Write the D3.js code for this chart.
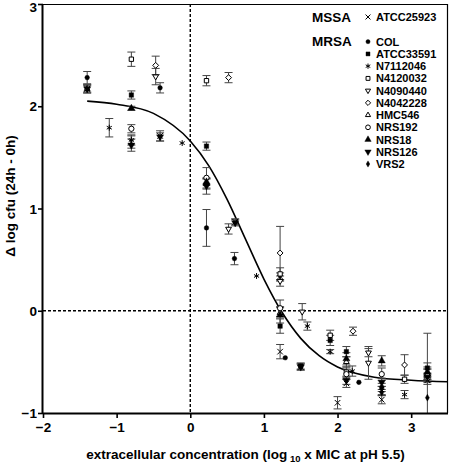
<!DOCTYPE html>
<html><head><meta charset="utf-8">
<script src="https://cdn.jsdelivr.net/npm/d3@7"></script>
<style>body{margin:0;background:#fff}svg{display:block}text{font-family:"Liberation Sans",Arial,sans-serif;font-weight:bold}</style>
</head><body><svg id="c" width="450" height="466"></svg>
<script>
// ---- data: [x, y, sd] ----
const ATCC25923 = [[-1.40,2.17,0.04],[-0.80,1.65,0.06],[-0.41,1.71,0.05],[0.61,0.87,0.03],[1.22,-0.40,0.07],[1.50,-0.55,0.03],[2.00,-0.90,0.06],[2.12,-0.71,0.04],[2.60,-0.87,0.04],[3.22,-0.68,0.04]];
const COL = [[-1.40,2.28,0.06],[-0.41,2.18,0.05],[0.22,0.81,0.18],[0.60,0.51,0.06],[1.29,-0.46,0],[2.29,-0.70,0],[2.60,-0.75,0.04]];
const ATCC33591 = [[-0.80,2.11,0.04],[0.22,1.61,0.04],[1.22,-0.15,0.07],[1.50,-0.54,0.03],[1.90,-0.29,0.05],[2.12,-0.40,0.05],[3.22,-0.56,0.05]];
const N7112046 = [[-1.10,1.79,0.09],[-0.80,1.67,0.05],[-0.11,1.64,0],[0.90,0.34,0],[1.22,0.33,0.04],[1.59,-0.15,0.04],[1.90,-0.40,0.02],[2.20,-0.59,0.05],[2.60,-0.78,0.04],[2.91,-0.82,0.04]];
const N4120032 = [[-0.80,2.46,0.07],[0.22,2.25,0.05],[1.22,0.36,0.06],[1.90,-0.24,0.05],[2.12,-0.60,0.05],[2.91,-0.67,0.04],[3.22,-0.62,0.05]];
const N4090440 = [[-0.47,2.29,0.08],[0.52,0.80,0.05],[1.22,0.29,0.05],[1.52,-0.01,0.08],[2.42,-0.41,0.04],[2.42,-0.51,0.16]];
const N4042228 = [[-0.47,2.40,0.09],[0.52,2.28,0.05],[1.22,0.565,0.26],[2.21,-0.20,0.04],[2.91,-0.53,0.10]];
const HMC546 = [[-1.40,2.17,0.04],[0.22,1.24,0.05],[1.22,-0.02,0.05],[2.12,-0.50,0.05],[3.22,-0.62,0.05]];
const NRS192 = [[-0.80,1.78,0.04],[0.22,1.30,0.10],[1.22,0.025,0.08],[2.12,-0.62,0.05],[2.60,-0.62,0.06],[3.22,-0.66,0.04]];
const NRS18 = [[-0.80,1.98,0.02],[0.22,1.26,0.03],[1.22,-0.04,0.08],[2.12,-0.47,0.06],[2.60,-0.49,0.05],[3.22,-0.60,0.05]];
const NRS126 = [[-1.40,2.17,0.03],[-0.80,1.62,0.06],[-0.41,1.70,0.04],[0.22,1.22,0.08],[0.61,0.86,0.03],[1.50,-0.55,0.03],[2.12,-0.68,0.04],[2.60,-0.70,0.04],[3.22,-0.65,0.43]];
const VRS2 = [[2.60,-0.80,0.03],[3.22,-0.85,0]];
// fitted curve
const curveX = [-1.4,-1.0,-0.5,0,0.25,0.5,0.75,1.0,1.25,1.5,1.75,2.0,2.5,3.0,3.5];
const curveY = [2.05,2.02,1.93,1.66,1.42,1.09,0.70,0.31,-0.02,-0.27,-0.44,-0.55,-0.65,-0.68,-0.695];
const xTicks = [-2,-1,0,1,2,3];
const yTicks = [-1,0,1,2,3];
const strainNames = ["ATCC25923","COL","ATCC33591","N7112046","N4120032","N4090440","N4042228","HMC546","NRS192","NRS18","NRS126","VRS2"];
const strainData = [ATCC25923,COL,ATCC33591,N7112046,N4120032,N4090440,N4042228,HMC546,NRS192,NRS18,NRS126,VRS2];
// symbol styles: [d3 symbol, size, filled, rotate]
const styles = [
  [d3.symbolTimes,22,false,0],[d3.symbolCircle,17,true,0],[d3.symbolSquare,20,true,0],
  [d3.symbolAsterisk,24,false,0],[d3.symbolSquare2,24,false,0],[d3.symbolTriangle2,24,false,180],
  [d3.symbolDiamond2,22,false,0],[d3.symbolTriangle2,24,false,0],[d3.symbolCircle,22,false,0],
  [d3.symbolTriangle,22,true,0],[d3.symbolTriangle,22,true,180],[d3.symbolDiamond,14,true,0]];

const svg = d3.select("#c");
const L=43,R=448,T=4,B=413;
const x = d3.scaleLinear().domain([-2,3.5]).range([L,R]);
const y = d3.scaleLinear().domain([-1,3]).range([B,T]);

svg.append("defs").append("clipPath").attr("id","clip").append("rect").attr("x",L).attr("y",T-3).attr("width",R-L).attr("height",B-T+3);

// frame top/right
svg.append("line").attr("x1",L).attr("x2",R).attr("y1",T+0.5).attr("y2",T+0.5).attr("stroke","#000").attr("stroke-width",1.2);
svg.append("line").attr("x1",R-0.5).attr("x2",R-0.5).attr("y1",T).attr("y2",B).attr("stroke","#000").attr("stroke-width",1.2);

// dashed zero lines
svg.append("line").attr("x1",L).attr("x2",R).attr("y1",y(0)).attr("y2",y(0)).attr("stroke","#000").attr("stroke-width",1.4).attr("stroke-dasharray","3,2");
svg.append("line").attr("x1",x(0)).attr("x2",x(0)).attr("y1",T).attr("y2",B).attr("stroke","#000").attr("stroke-width",1.4).attr("stroke-dasharray","3,2");

const g = svg.append("g").attr("clip-path","url(#clip)");
// curve
g.append("path").datum(curveX.map((d,i)=>[d,curveY[i]]))
 .attr("d",d3.line().x(d=>x(d[0])).y(d=>y(d[1])).curve(d3.curveMonotoneX))
 .attr("fill","none").attr("stroke","#000").attr("stroke-width",1.6);

// error bars & points
strainData.forEach((arr,si)=>{
  arr.forEach(p=>{
    if(p[2]>0){
      const x0=x(p[0]), y1=y(p[1]+p[2]), y2=y(p[1]-p[2]);
      g.append("line").attr("x1",x0).attr("x2",x0).attr("y1",y1).attr("y2",y2).attr("stroke","#444").attr("stroke-width",1);
      [y1,y2].forEach(yy=>g.append("line").attr("x1",x0-4).attr("x2",x0+4).attr("y1",yy).attr("y2",yy).attr("stroke","#444").attr("stroke-width",1));
    }
  });
});
strainData.forEach((arr,si)=>{
  const st = styles[si];
  arr.forEach(p=>{
    g.append("path").attr("d",d3.symbol(st[0],st[1])())
     .attr("transform",`translate(${x(p[0])},${y(p[1])}) rotate(${st[3]})`)
     .attr("fill",st[2]?"#000":"#fff").attr("stroke","#000").attr("stroke-width",st[2]?0.4:1);
  });
});

// axes
const xa = svg.append("g").attr("transform",`translate(0,${B})`).call(d3.axisBottom(x).tickValues(xTicks).tickSize(5).tickSizeOuter(0).tickFormat(d3.format("d")));
const ya = svg.append("g").attr("transform",`translate(${L},0)`).call(d3.axisLeft(y).tickValues(yTicks).tickSize(5).tickSizeOuter(0).tickFormat(d3.format("d")));
[xa,ya].forEach(a=>{
  a.select(".domain").attr("stroke-width",2);
  a.selectAll(".tick line").attr("stroke-width",1.6);
  a.selectAll("text").attr("font-size",13.5).attr("font-family","Liberation Sans, Arial").attr("font-weight","bold").attr("fill","#000");
});
xa.selectAll("text").attr("dy","0.95em").attr("y",6);
ya.selectAll("text").attr("x",-6).attr("dy",d=>d===3?"0.55em":"0.35em");
xa.select(".domain").attr("d",`M${L},0.5H${R}`);
ya.select(".domain").attr("d",`M-0.5,${B}V${T}`);

// axis titles
const xt = svg.append("text").attr("x",(L+R)/2).attr("y",459).attr("text-anchor","middle").attr("font-size",13.5);
xt.append("tspan").text("extracellular concentration (log");
xt.append("tspan").attr("font-size",9.5).attr("dy",3).text(" 10");
xt.append("tspan").attr("dy",-3).text(" x MIC at pH 5.5)");
svg.append("text").attr("transform",`translate(15,196) rotate(-90)`).attr("text-anchor","middle").attr("font-size",13.5).text("Δ log cfu (24h - 0h)");

// legend
svg.append("text").attr("x",312).attr("y",22).attr("font-size",13.5).text("MSSA");
svg.append("text").attr("x",312).attr("y",46).attr("font-size",13.5).text("MRSA");
const ly0=17, ly1=41.7, lstep=12.23;
strainNames.forEach((n,i)=>{
  const yy = i===0?ly0:ly1+(i-1)*lstep;
  const st=styles[i];
  svg.append("path").attr("d",d3.symbol(st[0],st[1]*0.8)())
   .attr("transform",`translate(368,${yy}) rotate(${st[3]})`)
   .attr("fill",st[2]?"#000":"#fff").attr("stroke","#000").attr("stroke-width",st[2]?0.4:1);
  svg.append("text").attr("x",376).attr("y",yy).attr("dy","0.36em").attr("font-size",11).text(n);
});
</script></body></html>
